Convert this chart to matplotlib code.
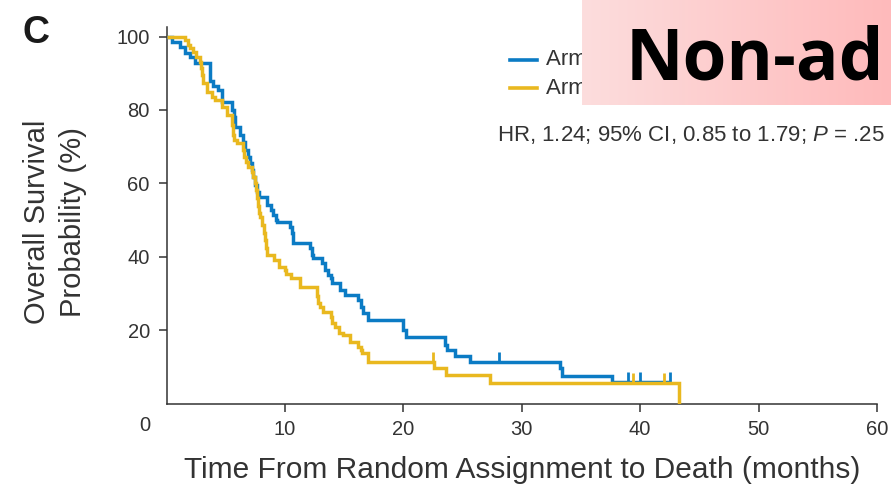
import numpy as np
import matplotlib
matplotlib.use("Agg")
import matplotlib.pyplot as plt
from matplotlib.lines import Line2D
from matplotlib import font_manager

# ---- data -------------------------------------------------------------
arm_a_times = [0.46, 1.14, 1.56, 1.98, 2.4, 3.66, 3.92, 4.35, 4.68, 5.53,
               5.70, 5.78, 6.2, 6.46, 6.62, 6.88, 7.05, 7.2, 7.3, 7.47,
               7.64, 7.8, 8.46, 8.8, 8.99, 9.24, 9.32, 10.42, 10.59, 10.68,
               12.1, 12.28, 12.36, 13.12, 13.38, 13.63, 13.9, 13.97, 14.64, 15.06,
               16.16, 16.41, 16.58, 17.0, 19.96, 20.21, 23.5, 23.7, 24.35, 25.6,
               33.2, 33.4, 37.6]
arm_a_surv = [98.5, 97.1, 95.5, 94.4, 92.9, 88.0, 86.6, 85.4, 82.2, 80.1,
              78.1, 75.3, 73.2, 71.3, 69.1, 67.2, 65.5, 63.6, 61.7, 59.5,
              57.6, 56.3, 54.1, 52.7, 51.4, 50.0, 49.5, 48.1, 46.5, 43.7,
              42.4, 40.5, 39.6, 38.3, 36.4, 35.0, 34.2, 32.8, 30.9, 29.6,
              28.2, 26.3, 24.7, 22.8, 20.0, 18.1, 16.0, 14.6, 13.0, 11.3,
              9.7, 7.5, 5.9]
arm_a_censor = [28.1, 39.0, 40.0, 42.5]

arm_b_times = [1.56, 1.81, 1.98, 2.2, 2.45, 2.83, 2.9, 3.0, 3.08, 3.42,
               3.84, 4.1, 4.68, 5.1, 5.53, 5.6, 5.7, 5.95, 6.46, 6.55,
               6.71, 6.88, 7.22, 7.3, 7.47, 7.55, 7.64, 7.72, 7.8, 7.93,
               8.1, 8.2, 8.3, 8.4, 8.5, 9.07, 9.5, 10.0, 10.1, 10.5,
               11.3, 12.7, 12.75, 12.8, 13.0, 13.25, 13.9, 14.0, 14.2, 14.6,
               14.9, 15.5, 16.2, 16.4, 16.55, 17.0, 22.6, 23.6, 27.3, 43.3]
arm_b_surv = [99.0, 97.7, 96.9, 95.8, 94.4, 93.0, 91.4, 89.5, 87.3, 84.9,
              83.5, 82.7, 80.8, 78.6, 75.9, 73.2, 71.8, 71.0, 69.1, 67.2,
              65.8, 64.4, 63.1, 61.7, 60.1, 58.2, 56.0, 53.8, 51.9, 50.8,
              48.6, 46.5, 44.6, 42.4, 40.5, 39.1, 37.2, 36.4, 35.3, 34.2,
              31.7, 30.7, 29.3, 27.4, 26.3, 24.9, 23.6, 21.9, 20.8, 19.2,
              18.7, 16.8, 15.4, 14.6, 13.8, 11.3, 9.7, 7.8, 5.6, 0.0]
arm_b_censor = [22.5, 39.4, 42.0]

arm_labels = ["Arm A", "Arm B"]
x_ticks = [10, 20, 30, 40, 50, 60]
y_ticks = [20, 40, 60, 80, 100]
stats_text = "HR, 1.24; 95% CI, 0.85 to 1.79; $P$ = .25"
panel_label = "C"
banner_text = "Non-ad"

# ---- style ------------------------------------------------------------
BLUE = "#0b7bc4"
GOLD = "#e9b81f"
INK = "#333333"
W, H = 891, 491

plt.rcParams["font.family"] = ["Liberation Sans", "DejaVu Sans"]
plt.rcParams["mathtext.fontset"] = "custom"
plt.rcParams["mathtext.it"] = "Liberation Sans:italic"
plt.rcParams["mathtext.rm"] = "Liberation Sans"


def bold_family(candidates):
    """First family whose bold face is really installed."""
    for fam in candidates:
        try:
            path = font_manager.findfont(
                font_manager.FontProperties(family=fam, weight="bold"),
                fallback_to_default=False)
        except Exception:
            continue
        if "bold" in path.lower():
            return fam
    return "DejaVu Sans"


BANNER_FONT = bold_family(["Noto Sans", "Open Sans", "Lato", "Roboto", "DejaVu Sans"])

fig = plt.figure(figsize=(W / 100, H / 100), dpi=100)
fig.patch.set_facecolor("white")


def fx(px):
    return px / W


def fy(py):
    return 1 - py / H


ax = fig.add_axes([fx(166.5), fy(403.5), (877 - 166.5) / W, (403.5 - 27) / H])
ax.set_xlim(0, 60)
ax.set_ylim(0, 102.6)
for side in ("top", "right"):
    ax.spines[side].set_visible(False)
for side in ("left", "bottom"):
    ax.spines[side].set_color(INK)
    ax.spines[side].set_linewidth(1.1)
ax.set_xticks(x_ticks)
ax.set_yticks(y_ticks)
ax.tick_params(axis="both", direction="out", length=6, width=1.1, color=INK,
               labelsize=14.5, labelcolor=INK, pad=6)
ax.annotate("0", xy=(0, 0), xycoords="data", xytext=(-15.5, -15.5),
            textcoords="offset points", ha="center", va="center",
            fontsize=14.5, color=INK, annotation_clip=False)


def km_curve(times, surv, end=None):
    t = np.r_[0.0, times]
    s = np.r_[100.0, surv]
    if end is not None and end > t[-1]:
        t = np.r_[t, end]
        s = np.r_[s, s[-1]]
    return t, s


def level_at(times, surv, when):
    t = np.r_[0.0, times]
    s = np.r_[100.0, surv]
    idx = np.searchsorted(t, when, side="right") - 1
    return s[idx]


arms = [
    (arm_a_times, arm_a_surv, arm_a_censor, BLUE),
    (arm_b_times, arm_b_surv, arm_b_censor, GOLD),
]
for times, surv, cens, col in arms:
    t, s = km_curve(times, surv, end=max(cens))
    ax.step(t, s, where="post", color=col, lw=2.5,
            solid_joinstyle="miter", solid_capstyle="butt", zorder=3)
    lv = level_at(times, surv, np.asarray(cens))
    ax.vlines(cens, lv, lv + 2.6, color=col, lw=2.0, zorder=3)

ax.set_xlabel("Time From Random Assignment to Death (months)",
              fontsize=21.5, color=INK, labelpad=12)
fig.text(fx(55), fy(222), "Overall Survival\nProbability (%)", rotation=90,
         ha="center", va="center", fontsize=21, color=INK, linespacing=1.35,
         multialignment="center")

fig.text(fx(22), fy(43), panel_label, fontsize=27, fontweight="bold",
         color="#1a1a1a", ha="left", va="baseline")

# legend
for i, (lab, col) in enumerate(zip(arm_labels, [BLUE, GOLD])):
    yy = 60 + 28 * i
    fig.add_artist(Line2D([fx(510), fx(537)], [fy(yy), fy(yy)], color=col, lw=2.6))
    fig.text(fx(546), fy(yy), lab, fontsize=16, color=INK, ha="left",
             va="center")

fig.text(fx(497), fy(141), stats_text, fontsize=16, color=INK,
         ha="left", va="baseline")

# pink banner
bax = fig.add_axes([fx(582), fy(105), (W - 582) / W, 105 / H], zorder=10)
left = np.array([252, 221, 221]) / 255
right = np.array([255, 186, 187]) / 255
g = np.linspace(0, 1, 256)[None, :, None]
grad = left[None, None, :] * (1 - g) + right[None, None, :] * g
bax.imshow(grad, aspect="auto", extent=[0, 1, 0, 1])
bax.set_axis_off()
bax.text((626 - 582) / (W - 582), 0.24, banner_text,
         transform=bax.transAxes, fontsize=51, fontweight="bold",
         family=BANNER_FONT, color="black",
         ha="left", va="baseline", clip_on=True)

fig.savefig("out.png", dpi=100)
